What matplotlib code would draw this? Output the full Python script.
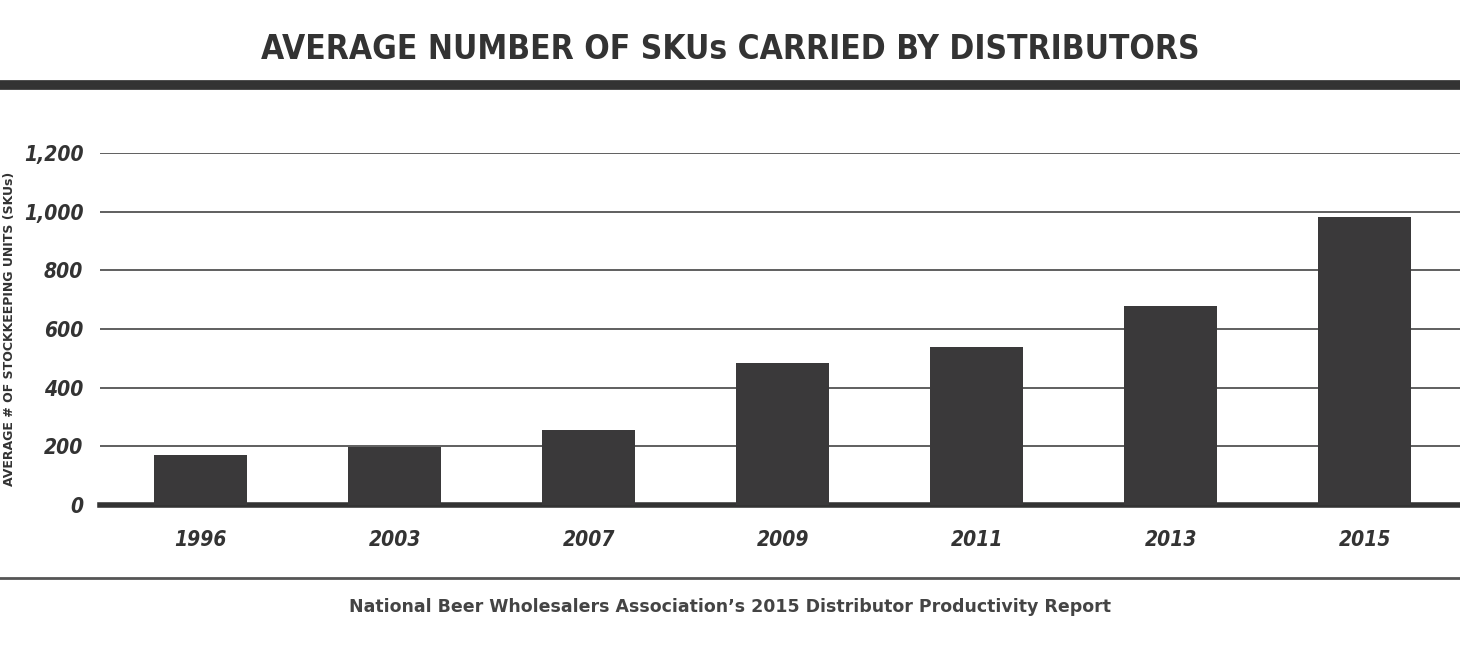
import matplotlib
matplotlib.use("Agg")
import matplotlib.pyplot as plt
from matplotlib.lines import Line2D

years = ["1996", "2003", "2007", "2009", "2011", "2013", "2015"]
skus = [170, 198, 256, 484, 539, 678, 982]
yticks = [0, 200, 400, 600, 800, 1000, 1200]
ytick_labels = ["0", "200", "400", "600", "800", "1,000", "1,200"]

fam = "DejaVu Sans"
fig = plt.figure(figsize=(14.6, 6.57), dpi=100)
ax = fig.add_axes([0.0685, 0.2314, 0.9315, 0.5358])
x = range(len(years))
ax.bar(x, skus, width=0.48, color="#3a393a", zorder=3)
ax.set_xlim(-0.52, 6.49)
ax.set_ylim(0, 1200)
ax.set_yticks(yticks)
ax.set_yticklabels(ytick_labels)
ax.set_xticks(list(x))
ax.set_xticklabels(years)
ax.grid(axis="y", color="#444444", linewidth=1.2, zorder=0)
for s in ["top", "right", "left"]:
    ax.spines[s].set_visible(False)
ax.spines["bottom"].set_linewidth(4)
ax.spines["bottom"].set_color("#333333")
ax.tick_params(axis="y", length=0, pad=12, labelsize=15, labelcolor="#333333")
ax.tick_params(axis="x", length=0, pad=18, labelsize=15, labelcolor="#333333")
for lab in ax.get_xticklabels() + ax.get_yticklabels():
    lab.set_fontfamily(fam)
    lab.set_fontweight("bold")
    lab.set_fontstyle("italic")
    lab.set_fontstretch("condensed")
ax.set_ylabel("AVERAGE # OF STOCKKEEPING UNITS (SKUs)", fontsize=9, fontweight="bold",
              color="#333333", family=fam)
ax.yaxis.set_label_coords(-0.062, 0.5)

fig.text(0.5, 0.925, "AVERAGE NUMBER OF SKUs CARRIED BY DISTRIBUTORS", ha="center", va="center",
         fontsize=24, fontweight="bold", color="#333333", family=fam, fontstretch="condensed")
fig.add_artist(Line2D([0, 1], [1 - 85/657, 1 - 85/657], color="#333333", linewidth=7, transform=fig.transFigure))
fig.add_artist(Line2D([0, 1], [1 - 578/657, 1 - 578/657], color="#555555", linewidth=2, transform=fig.transFigure))
fig.text(0.5, 1 - 607/657, "National Beer Wholesalers Association\u2019s 2015 Distributor Productivity Report",
         ha="center", va="center", fontsize=12.5, fontweight="bold", color="#444444", family=fam)
fig.savefig("out.png", dpi=100)
